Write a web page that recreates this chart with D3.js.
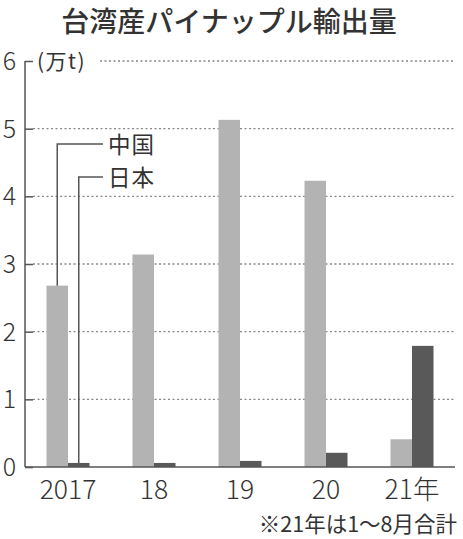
<!DOCTYPE html>
<html><head><meta charset="utf-8">
<script src="https://cdn.jsdelivr.net/npm/d3@7"></script>
<style>
html,body{margin:0;padding:0;background:#fff;}
text{font-family:"Noto Sans CJK JP","Noto Sans",sans-serif;fill:#333;}
</style></head>
<body><svg id="c" width="463" height="539"></svg>
<script>
const years = ["2017","18","19","20","21年"];
const china = [2.68, 3.14, 5.13, 4.23, 0.41];
const japan = [0.06, 0.06, 0.09, 0.21, 1.79];
const yTicks = [0,1,2,3,4,5,6];
const seriesNames = ["中国","日本"];
const title = "台湾産パイナップル輸出量";
const unitLabel = "(万t)";
const note = "※21年は1～8月合計";

const svg = d3.select("#c");
const x0 = 25, x1 = 455;
const x = d3.scaleBand().domain(years).range([x0, x1]).paddingInner(0.5).paddingOuter(0.25);
const y = d3.scaleLinear().domain([0, 6]).range([467, 61]);
const bw = x.bandwidth()/2;

svg.append("text").attr("x", 229).attr("y", 32).attr("text-anchor","middle")
  .attr("font-size", 28).attr("font-weight", 500).text(title);

// gridlines
yTicks.filter(d=>d>0).forEach(d=>{
  svg.append("line").attr("x1", d===6 ? 100 : 33).attr("x2", x1)
    .attr("y1", y(d)).attr("y2", y(d))
    .attr("stroke","#888").attr("stroke-width",1.3).attr("stroke-dasharray","2,2.5");
});

// bars
const g = svg.append("g");
g.selectAll("rect.cn").data(years).enter().append("rect")
  .attr("x", d=>x(d)).attr("width", bw)
  .attr("y", (d,i)=>y(china[i])).attr("height",(d,i)=>y(0)-y(china[i]))
  .attr("fill","#b3b3b3");
g.selectAll("rect.jp").data(years).enter().append("rect")
  .attr("x", d=>x(d)+bw).attr("width", bw)
  .attr("y", (d,i)=>y(japan[i])).attr("height",(d,i)=>y(0)-y(japan[i]))
  .attr("fill","#595959");

// axes
const yAxis = d3.axisRight(y).tickValues(yTicks).tickSize(8).tickFormat("");
const ya = svg.append("g").attr("transform",`translate(${x0},0)`).call(yAxis);
ya.select(".domain").attr("stroke","#555").attr("stroke-width",1.5).attr("d",`M0,${y(6)}V${y(0)}`);
ya.selectAll(".tick line").attr("stroke","#555").attr("stroke-width",1.5);
svg.selectAll("text.yl").data(yTicks).enter().append("text")
  .attr("x", 9.5).attr("y", d=>y(d)+9).attr("text-anchor","middle")
  .attr("font-size", 25).attr("font-weight",300).text(d=>d);
svg.append("line").attr("x1",x0).attr("x2",x1).attr("y1",y(0)).attr("y2",y(0))
  .attr("stroke","#555").attr("stroke-width",1.5);

svg.append("text").attr("x", 37).attr("y", y(6)+7.5).attr("font-size", 21)
  .attr("letter-spacing", 1.5).text(unitLabel);

// x labels
svg.selectAll("text.xl").data(years).enter().append("text")
  .attr("x", d=>x(d)+x.bandwidth()/2).attr("y", 498.5).attr("text-anchor","middle")
  .attr("font-size", 26.5).attr("font-weight",300).text(d=>d);

// legend leaders
const lx = [x(years[0])+bw/2, x(years[0])+bw*1.5];
const ly = [144, 177];
const vals = [china[0], japan[0]];
seriesNames.forEach((s,i)=>{
  svg.append("path").attr("d",`M${lx[i]},${y(vals[i])}V${ly[i]}H103`)
    .attr("fill","none").attr("stroke","#555").attr("stroke-width",1.5);
  svg.append("text").attr("x",108).attr("y",ly[i]+8.5).attr("font-size",22.5)
    .attr("letter-spacing",1).text(s);
});

svg.append("text").attr("x",457).attr("y",532).attr("text-anchor","end")
  .attr("font-size",21.5).text(note);
</script></body></html>
